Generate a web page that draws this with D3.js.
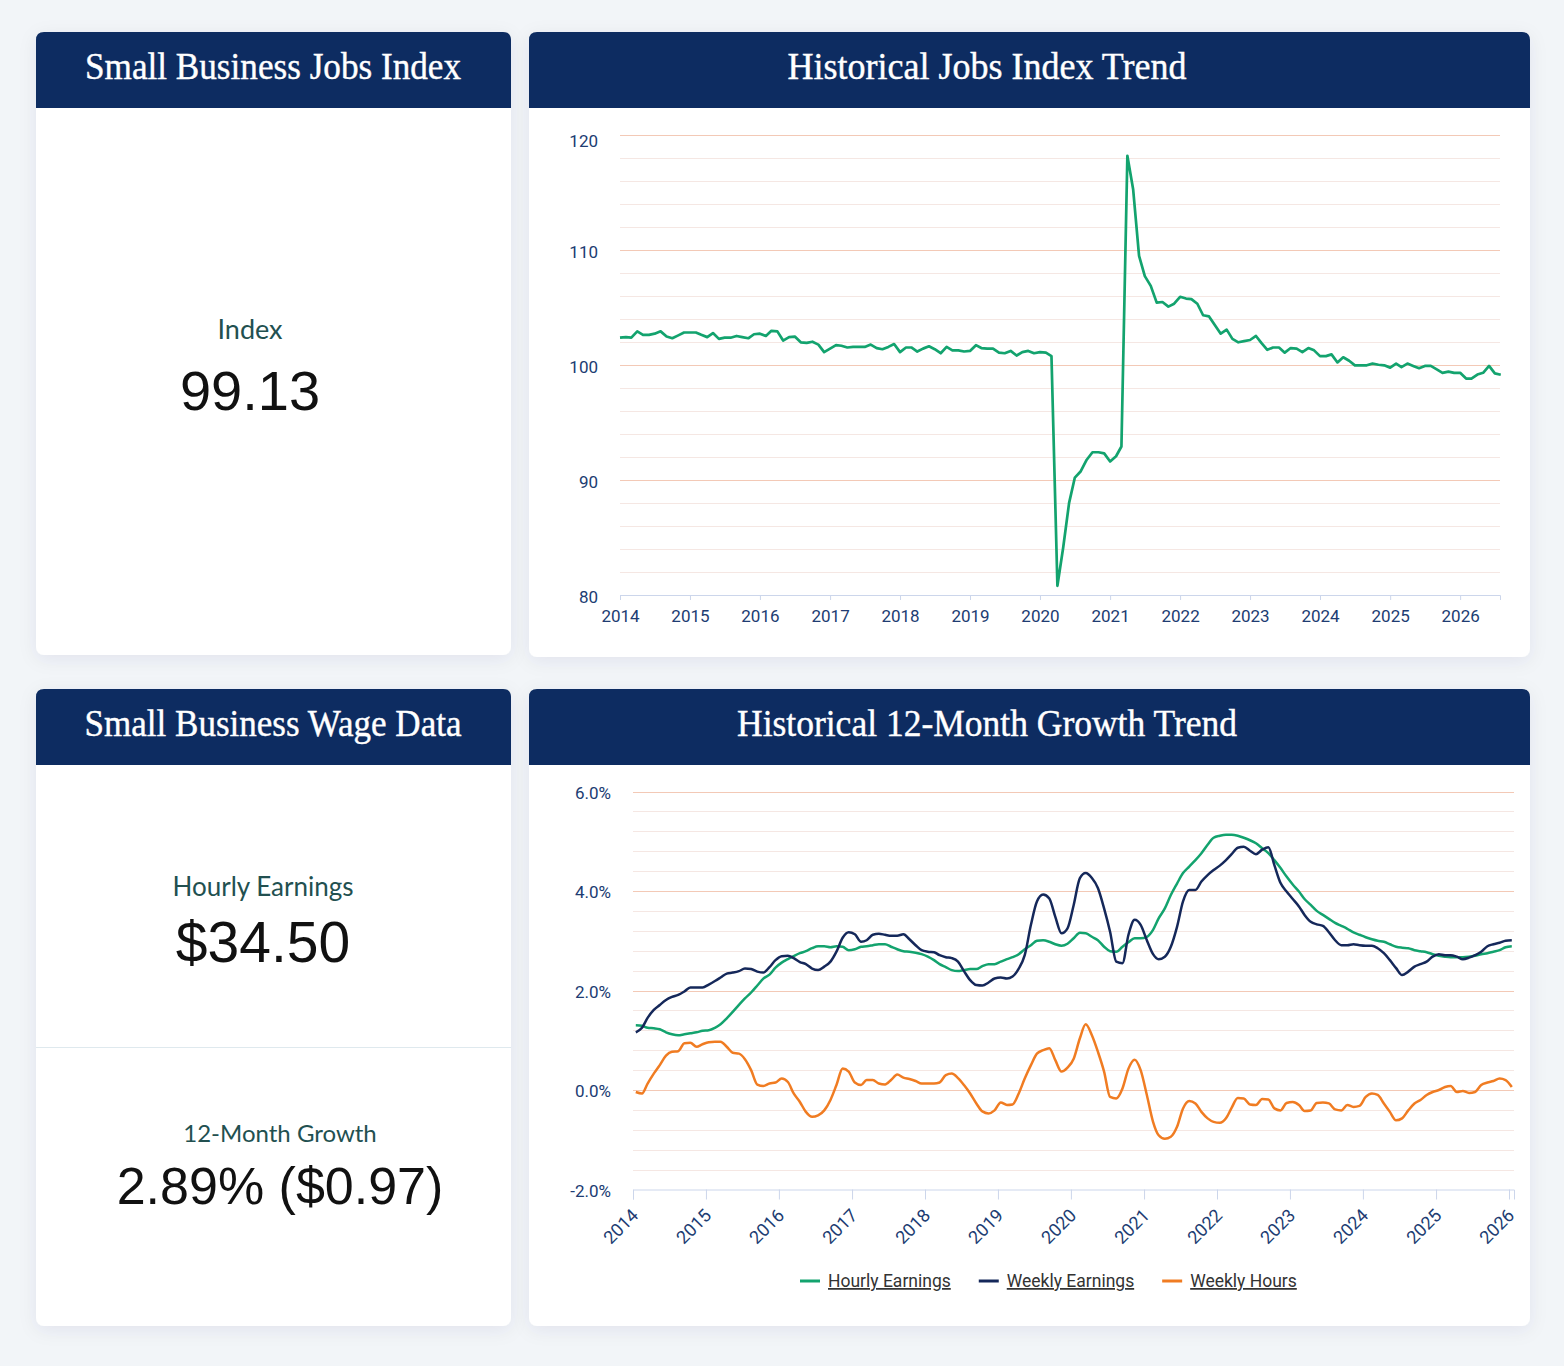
<!DOCTYPE html>
<html lang="en">
<head>
<meta charset="utf-8">
<title>Small Business Jobs Index</title>
<script src="https://d3js.org/d3.v7.min.js"></script>
<style>
  html, body { margin: 0; padding: 0; background: #f2f5f8; }
  svg { display: block; }
</style>
</head>
<body>
<svg id="page" width="1564" height="1366"></svg>
<script>
// monthly index values, Jan 2014 onwards
const jobsIndex = [
  102.35,102.4,102.35,102.9,102.6,102.6,102.7,102.9,102.45,102.3,102.55,102.8,
  102.8,102.8,102.6,102.4,102.75,102.25,102.35,102.35,102.5,102.4,102.3,102.65,
  102.7,102.5,102.95,102.9,102.1,102.4,102.45,101.95,101.9,102.0,101.75,101.1,
  101.4,101.7,101.65,101.5,101.55,101.55,101.55,101.75,101.45,101.35,101.55,101.8,
  101.1,101.5,101.5,101.15,101.4,101.6,101.35,101.0,101.55,101.25,101.25,101.15,
  101.2,101.7,101.45,101.4,101.4,101.05,101.0,101.2,100.8,101.1,101.2,101.0,
  101.1,101.05,100.75,80.8,84.1,88.0,90.2,90.75,91.75,92.4,92.4,92.3,
  91.6,92.05,92.9,118.15,115.25,109.45,107.7,106.85,105.4,105.45,105.05,105.3,
  105.9,105.75,105.7,105.3,104.3,104.2,103.45,102.7,103.05,102.25,101.95,102.05,
  102.15,102.5,101.9,101.3,101.5,101.5,101.05,101.45,101.4,101.1,101.45,101.25,
  100.75,100.75,100.9,100.2,100.65,100.35,99.95,99.95,99.95,100.1,100.0,99.95,
  99.75,100.1,99.8,100.1,99.9,99.7,99.9,99.9,99.6,99.3,99.4,99.3,
  99.3,98.8,98.8,99.15,99.3,99.9,99.25,99.13
];

// 12-month growth, %, Jan 2014 to Jan 2026
const hourlyEarnings = [
  1.30,1.29,1.25,1.24,1.22,1.16,1.12,1.10,1.12,1.14,1.16,1.19,
  1.20,1.25,1.32,1.44,1.57,1.71,1.84,1.96,2.10,2.24,2.32,2.46,
  2.56,2.63,2.69,2.75,2.79,2.85,2.89,2.89,2.87,2.89,2.88,2.81,
  2.83,2.88,2.89,2.91,2.93,2.93,2.88,2.83,2.79,2.78,2.76,2.73,
  2.68,2.61,2.53,2.47,2.41,2.39,2.41,2.43,2.43,2.49,2.53,2.53,
  2.58,2.63,2.67,2.73,2.83,2.91,3.00,3.01,2.98,2.93,2.90,2.94,
  3.05,3.16,3.15,3.08,3.01,2.88,2.79,2.78,2.88,2.97,3.05,3.05,
  3.08,3.22,3.45,3.65,3.92,4.15,4.36,4.49,4.62,4.76,4.93,5.07,
  5.11,5.13,5.13,5.11,5.07,5.02,4.96,4.86,4.76,4.62,4.46,4.29,
  4.13,3.99,3.84,3.72,3.60,3.52,3.44,3.36,3.30,3.24,3.17,3.12,
  3.07,3.03,3.00,2.98,2.93,2.88,2.86,2.85,2.81,2.79,2.77,2.73,
  2.70,2.68,2.67,2.67,2.67,2.68,2.70,2.73,2.75,2.78,2.81,2.87,
  2.89
];
const weeklyEarnings = [
  1.16,1.25,1.45,1.61,1.71,1.81,1.87,1.91,1.98,2.06,2.06,2.06,
  2.12,2.19,2.26,2.34,2.36,2.39,2.44,2.43,2.38,2.36,2.47,2.61,
  2.69,2.70,2.65,2.57,2.53,2.44,2.41,2.48,2.58,2.78,3.06,3.17,
  3.13,2.98,3.01,3.12,3.14,3.12,3.10,3.10,3.13,3.03,2.91,2.81,
  2.78,2.77,2.71,2.67,2.65,2.58,2.39,2.21,2.11,2.10,2.16,2.24,
  2.26,2.24,2.28,2.44,2.71,3.32,3.79,3.93,3.85,3.48,3.15,3.25,
  3.72,4.26,4.36,4.26,4.06,3.65,3.18,2.58,2.55,3.12,3.42,3.32,
  3.01,2.73,2.63,2.68,2.88,3.28,3.79,4.02,4.02,4.19,4.32,4.42,
  4.51,4.62,4.74,4.87,4.89,4.81,4.74,4.83,4.88,4.52,4.16,3.99,
  3.84,3.69,3.52,3.38,3.33,3.30,3.17,3.01,2.91,2.91,2.93,2.91,
  2.90,2.90,2.85,2.75,2.61,2.45,2.31,2.38,2.48,2.53,2.58,2.68,
  2.73,2.71,2.71,2.68,2.63,2.66,2.71,2.78,2.89,2.93,2.96,3.00,
  3.01
];
const weeklyHours = [
  -0.04,-0.07,0.13,0.33,0.50,0.69,0.77,0.78,0.94,0.95,0.87,0.92,
  0.96,0.97,0.97,0.87,0.75,0.73,0.62,0.40,0.11,0.08,0.13,0.15,
  0.23,0.16,-0.07,-0.24,-0.44,-0.54,-0.51,-0.41,-0.20,0.10,0.43,0.37,
  0.15,0.10,0.20,0.20,0.13,0.11,0.20,0.31,0.25,0.22,0.18,0.13,
  0.13,0.13,0.15,0.30,0.33,0.24,0.10,-0.07,-0.27,-0.43,-0.47,-0.41,
  -0.25,-0.30,-0.29,-0.07,0.23,0.50,0.73,0.80,0.84,0.60,0.37,0.45,
  0.63,1.04,1.32,1.10,0.77,0.37,-0.14,-0.17,0.03,0.43,0.61,0.40,
  -0.10,-0.64,-0.91,-0.98,-0.94,-0.74,-0.37,-0.22,-0.27,-0.44,-0.57,-0.64,
  -0.66,-0.57,-0.36,-0.16,-0.17,-0.29,-0.30,-0.18,-0.19,-0.37,-0.41,-0.26,
  -0.24,-0.30,-0.42,-0.41,-0.26,-0.25,-0.27,-0.39,-0.41,-0.30,-0.34,-0.32,
  -0.14,-0.07,-0.10,-0.27,-0.44,-0.61,-0.57,-0.41,-0.27,-0.20,-0.10,-0.04,
  0.00,0.06,0.08,-0.04,-0.02,-0.06,-0.04,0.10,0.15,0.18,0.23,0.20,
  0.06
];

const years = [2014,2015,2016,2017,2018,2019,2020,2021,2022,2023,2024,2025,2026];
const indexTicks = [80, 90, 100, 110, 120];
const growthTicks = [-2, 0, 2, 4, 6];
const seriesNames = ["Hourly Earnings", "Weekly Earnings", "Weekly Hours"];
const seriesColors = ["#13a36e", "#15285a", "#f07c22"];

const kpiIndex = { label: "Index", value: "99.13" };
const kpiHourly = { label: "Hourly Earnings", value: "$34.50" };
const kpiGrowth = { label: "12-Month Growth", value: "2.89% ($0.97)" };

const navy = "#0d2c61";
const axisText = "#203c72";
const gridMajor = "#f3c9b6";
const gridMinor = "#f5e7e3";

const svg = d3.select("#page");

// soft card shadow
const defs = svg.append("defs");
defs.append("filter").attr("id", "shadow")
  .attr("x", "-10%").attr("y", "-10%").attr("width", "120%").attr("height", "125%")
  .append("feDropShadow")
  .attr("dx", 0).attr("dy", 4).attr("stdDeviation", 9)
  .attr("flood-color", "#0b2b55").attr("flood-opacity", 0.07);

function card(x, y, w, h, title, titleX, titleLen) {
  const g = svg.append("g");
  const r = 8, hh = 76;
  g.append("rect")
    .attr("x", x).attr("y", y).attr("width", w).attr("height", h)
    .attr("rx", r).attr("fill", "#fff").attr("filter", "url(#shadow)");
  g.append("path")
    .attr("d", `M${x},${y + hh}V${y + r}Q${x},${y} ${x + r},${y}H${x + w - r}Q${x + w},${y} ${x + w},${y + r}V${y + hh}Z`)
    .attr("fill", navy);
  g.append("text")
    .attr("x", titleX).attr("y", y + 47)
    .attr("text-anchor", "middle")
    .attr("textLength", titleLen).attr("lengthAdjust", "spacingAndGlyphs")
    .style("font-family", "'Liberation Serif', serif")
    .style("font-size", "37px")
    .attr("fill", "#fff")
    .attr("stroke", "#fff").attr("stroke-width", 0.4)
    .text(title);
  return g;
}

function kpi(cx, yLabel, yValue, d, labelSize, size) {
  svg.append("text")
    .attr("x", cx).attr("y", yLabel).attr("text-anchor", "middle")
    .style("font-family", "Lato, sans-serif").style("font-size", labelSize + "px")
    .attr("fill", "#225050").text(d.label);
  svg.append("text")
    .attr("x", cx).attr("y", yValue).attr("text-anchor", "middle")
    .style("font-family", "'Liberation Sans', Arial, sans-serif").style("font-size", size + "px")
    .attr("fill", "#111").text(d.value);
}

card(36, 32, 475, 623, "Small Business Jobs Index", 273, 376);
card(529, 32, 1001, 625, "Historical Jobs Index Trend", 987, 399);
card(36, 689, 475, 637, "Small Business Wage Data", 273, 377);
card(529, 689, 1001, 637, "Historical 12-Month Growth Trend", 987, 500);

kpi(250, 339, 410, kpiIndex, 27, 56);
kpi(263, 896, 962, kpiHourly, 26, 57);
svg.append("line").attr("x1", 36).attr("x2", 511).attr("y1", 1047.5).attr("y2", 1047.5)
  .attr("stroke", "#dfe9ee").attr("stroke-width", 1);
kpi(280, 1142, 1204, kpiGrowth, 24, 52);

function styleAxis(g) {
  g.select(".domain").attr("stroke", "#ccd6eb");
  g.selectAll(".tick line").attr("stroke", "#ccd6eb");
  g.selectAll("text")
    .style("font-family", "Roboto, sans-serif").style("font-size", "17px")
    .attr("fill", axisText);
}

// ---------- Historical Jobs Index Trend ----------
const x1 = d3.scaleTime()
  .domain([new Date(2014, 0, 1), new Date(2026, 6, 28)])
  .range([620, 1500]);
const y1 = d3.scaleLinear().domain([80, 120]).range([595, 134.5]);

const grid1 = svg.append("g");
grid1.selectAll("line")
  .data(d3.range(82, 121, 2))
  .join("line")
  .attr("x1", 620).attr("x2", 1500)
  .attr("y1", d => Math.round(y1(d)) + 0.5).attr("y2", d => Math.round(y1(d)) + 0.5)
  .attr("stroke", d => d % 10 === 0 ? gridMajor : gridMinor)
  .attr("stroke-width", 1);

svg.append("g")
  .attr("transform", `translate(0,${y1(80)})`)
  .call(d3.axisBottom(x1)
    .tickValues(years.map(y => new Date(y, 0, 1)))
    .tickFormat(d3.timeFormat("%Y"))
    .tickSize(5).tickPadding(10))
  .call(styleAxis);

svg.append("g").selectAll("text")
  .data(indexTicks)
  .join("text")
  .attr("x", 598)
  .attr("y", d => Math.max(y1(d) + 2, 141) + 6)
  .attr("text-anchor", "end")
  .style("font-family", "Roboto, sans-serif").style("font-size", "17px")
  .attr("fill", axisText)
  .text(d => d);

svg.append("path")
  .datum(jobsIndex)
  .attr("fill", "none")
  .attr("stroke", "#13a36e")
  .attr("stroke-width", 2.7)
  .attr("stroke-linejoin", "round")
  .attr("d", d3.line()
    .x((d, i) => x1(new Date(2014, i, 1)))
    .y(d => y1(d)));

// ---------- Historical 12-Month Growth Trend ----------
const x2 = d3.scaleTime()
  .domain([new Date(2014, 0, 1), new Date(2026, 0, 26)])
  .range([633, 1514]);
const y2 = d3.scaleLinear().domain([-2, 6]).range([1189.5, 791.5]);

svg.append("g").selectAll("line")
  .data(d3.range(1, 21))
  .join("line")
  .attr("x1", 633).attr("x2", 1514)
  .attr("y1", k => Math.round(y2(-2 + 0.4 * k)) + 0.5)
  .attr("y2", k => Math.round(y2(-2 + 0.4 * k)) + 0.5)
  .attr("stroke", k => k % 5 === 0 ? gridMajor : gridMinor)
  .attr("stroke-width", 1);

const xAxis2 = svg.append("g")
  .attr("transform", `translate(0,${y2(-2)})`)
  .call(d3.axisBottom(x2)
    .tickValues(years.map(y => new Date(y, 0, 1)))
    .tickFormat(d3.timeFormat("%Y"))
    .tickSize(10).tickPadding(6))
  .call(styleAxis);
xAxis2.selectAll(".tick text")
  .attr("text-anchor", "end")
  .attr("dy", null)
  .attr("x", 0).attr("y", 0)
  .style("font-size", "18px")
  .attr("transform", "translate(6,27) rotate(-45)");

svg.append("g").selectAll("text")
  .data(growthTicks)
  .join("text")
  .attr("x", 611)
  .attr("y", d => y2(d) + 7)
  .attr("text-anchor", "end")
  .style("font-family", "Roboto, sans-serif").style("font-size", "17px")
  .attr("fill", axisText)
  .text(d => d.toFixed(1) + "%");

const growthSeries = [hourlyEarnings, weeklyEarnings, weeklyHours];
const line2 = d3.line()
  .x((d, i) => x2(new Date(2014, i, 15)))
  .y(d => y2(d))
  .curve(d3.curveMonotoneX);

// orange first, then green, navy on top
[2, 0, 1].forEach(k => {
  svg.append("path")
    .datum(growthSeries[k])
    .attr("fill", "none")
    .attr("stroke", seriesColors[k])
    .attr("stroke-width", 2.5)
    .attr("stroke-linejoin", "round")
    .attr("d", line2);
});

// legend
const legend = svg.append("g").attr("transform", "translate(800,1281)");
let lx = 0;
seriesNames.forEach((name, k) => {
  legend.append("line")
    .attr("x1", lx).attr("x2", lx + 20).attr("y1", 0).attr("y2", 0)
    .attr("stroke", seriesColors[k]).attr("stroke-width", 3);
  const t = legend.append("text")
    .attr("x", lx + 28).attr("y", 6)
    .style("font-family", "Roboto, sans-serif").style("font-size", "17.5px")
    .style("text-decoration", "underline")
    .attr("fill", "#333")
    .text(name);
  lx += 28 + t.node().getComputedTextLength() + 28;
});
</script>
</body>
</html>
